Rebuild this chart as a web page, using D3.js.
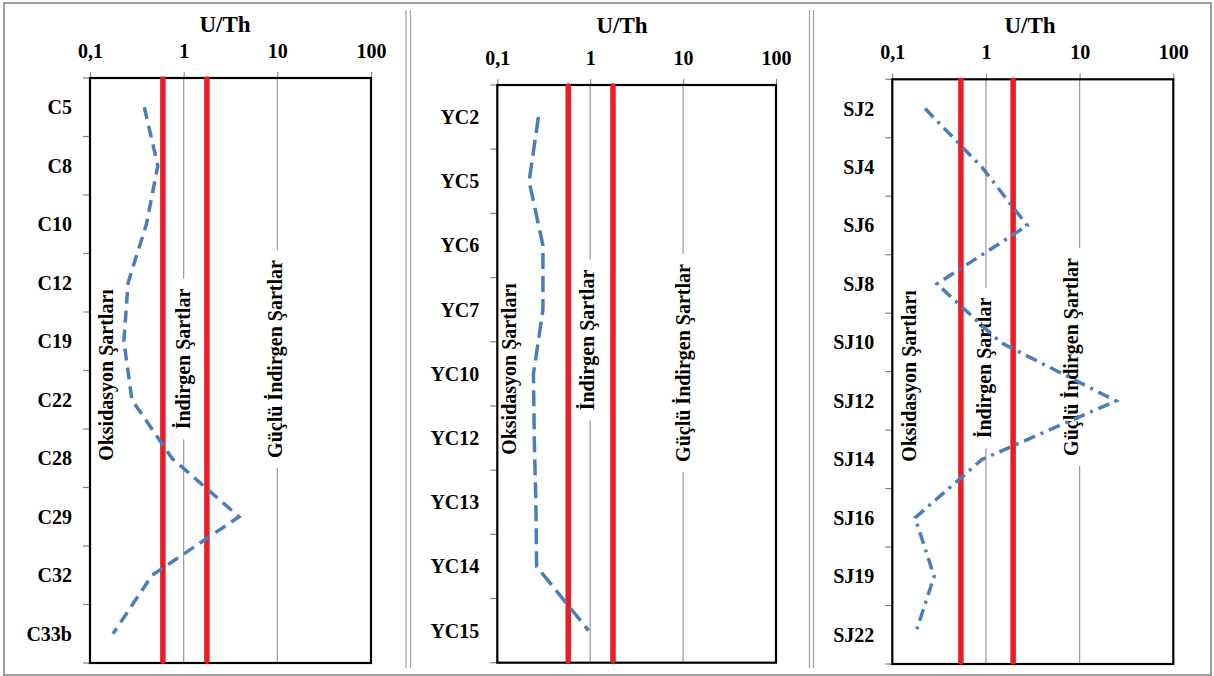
<!DOCTYPE html>
<html>
<head>
<meta charset="utf-8">
<script src="https://cdn.jsdelivr.net/npm/d3@7/dist/d3.min.js"></script>
<style>
  html, body { margin: 0; padding: 0; background: #fff; }
  svg { display: block; }
  text { font-family: "Liberation Serif", "Times New Roman", serif; font-weight: bold; fill: #000; }
</style>
</head>
<body>
<svg id="chart" width="1214" height="676"></svg>
<script>
// ---------- DATA ----------
const xTickValues = [0.1, 1, 10, 100];
const xTickLabels = ["0,1", "1", "10", "100"];
const gridValues = [1, 10];
const axisTitle = "U/Th";
const zoneLabels = ["Oksidasyon Şartları", "İndirgen Şartlar", "Güçlü İndirgen Şartlar"];

const categories1 = ["C5", "C8", "C10", "C12", "C19", "C22", "C28", "C29", "C32", "C33b"];
const values1 = [0.38, 0.53, 0.40, 0.255, 0.23, 0.28, 0.75, 3.9, 0.46, 0.176];
const thresholds1 = [0.6, 1.77];

const categories2 = ["YC2", "YC5", "YC6", "YC7", "YC10", "YC12", "YC13", "YC14", "YC15"];
const values2 = [0.277, 0.22, 0.31, 0.31, 0.245, 0.25, 0.26, 0.265, 0.96];
const thresholds2 = [0.58, 1.76];

const categories3 = ["SJ2", "SJ4", "SJ6", "SJ8", "SJ10", "SJ12", "SJ14", "SJ16", "SJ19", "SJ22"];
const values3 = [0.224, 0.9, 2.76, 0.30, 1.43, 24.4, 0.91, 0.175, 0.28, 0.175];
const thresholds3 = [0.54, 1.95];

// ---------- LAYOUT ----------
const layouts = [
  { left: 90, right: 371, top: 78, bottom: 663, titleX: 225, titleY: 32, tickY: 58,
    dash: "12,7", zoneX: [23, 6.5, 4.5], zoneY: [375, 359, 359] },
  { left: 497.3, right: 776, top: 85, bottom: 662.7, titleX: 622, titleY: 33, tickY: 64.5,
    dash: "16,7", zoneX: [18.5, 4, 7], zoneY: [369, 340, 363] },
  { left: 892.3, right: 1173.3, top: 79.3, bottom: 664, titleX: 1030, titleY: 33, tickY: 59,
    dash: "12,6,3,6", zoneX: [24, 5, -1.5], zoneY: [376, 368, 357] }
];

const panels = [
  { cats: categories1, vals: values1, th: thresholds1 },
  { cats: categories2, vals: values2, th: thresholds2 },
  { cats: categories3, vals: values3, th: thresholds3 }
];

const svg = d3.select("#chart");

// outer frame
svg.append("rect").attr("x", 4).attr("y", 3).attr("width", 1207).attr("height", 672)
  .attr("fill", "none").attr("stroke", "#7f7f7f").attr("stroke-width", 1.5);

// chart borders (double separators)
[406, 410.5, 809.5, 813.5].forEach(xx => {
  svg.append("line").attr("x1", xx).attr("x2", xx).attr("y1", 10).attr("y2", 668)
    .attr("stroke", "#a6a6a6").attr("stroke-width", 1.3);
});

panels.forEach((p, pi) => {
  const L = layouts[pi];
  const g = svg.append("g");
  const x = d3.scaleLog().domain([0.1, 100]).range([L.left, L.right]);
  const y = d3.scaleBand().domain(p.cats).range([L.top, L.bottom]).paddingInner(0).paddingOuter(0);

  // title
  g.append("text").attr("x", L.titleX).attr("y", L.titleY).attr("text-anchor", "middle")
    .style("font-size", "23px").text(axisTitle);

  // top axis
  const axis = d3.axisTop(x).tickValues(xTickValues)
    .tickFormat((d, i) => xTickLabels[i]).tickSize(6).tickPadding(L.top - L.tickY - 1);
  const ax = g.append("g").attr("transform", `translate(0,${L.top})`).call(axis);
  ax.select(".domain").remove();
  ax.selectAll(".tick line").attr("stroke", "#808080");
  ax.selectAll(".tick text").attr("font-family", null).style("font-size", "20px")
    .attr("fill", "#000").attr("dy", 0).attr("y", -(L.top - L.tickY));

  // gridlines
  g.selectAll(".grid").data(gridValues).enter().append("line")
    .attr("x1", d => x(d)).attr("x2", d => x(d)).attr("y1", L.top).attr("y2", L.bottom)
    .attr("stroke", "#999").attr("stroke-width", 1.2);

  // left ticks at band boundaries
  const bounds = d3.range(p.cats.length + 1).map(i => L.top + i * y.step());
  g.selectAll(".ltick").data(bounds).enter().append("line")
    .attr("x1", L.left - 7).attr("x2", L.left).attr("y1", d => d).attr("y2", d => d)
    .attr("stroke", "#808080").attr("stroke-width", 1.2);

  // category labels
  g.selectAll(".cat").data(p.cats).enter().append("text")
    .attr("x", L.left - 18).attr("y", d => y(d) + y.bandwidth() / 2 + 7)
    .attr("text-anchor", "end").style("font-size", "20px").text(d => d);

  // zone labels (rotated)
  const anchors = [x(0.1) , x(1), x(10)];
  zoneLabels.forEach((lab, li) => {
    const bx = anchors[li] + L.zoneX[li];
    const cy = L.zoneY[li];
    const t = g.append("text")
      .attr("transform", `translate(${bx},${cy}) rotate(-90)`)
      .attr("text-anchor", "middle").style("font-size", "20px").text(lab);
    const len = t.node().getComputedTextLength();
    if (li > 0) {
      g.insert("rect", () => t.node())
        .attr("x", bx - 18).attr("width", 24)
        .attr("y", cy - len / 2 - 10).attr("height", len + 20)
        .attr("fill", "#fff");
    }
  });

  // plot box
  g.append("rect").attr("x", L.left).attr("y", L.top)
    .attr("width", L.right - L.left).attr("height", L.bottom - L.top)
    .attr("fill", "none").attr("stroke", "#000").attr("stroke-width", 2.2);

  // red threshold lines
  g.selectAll(".th").data(p.th).enter().append("line")
    .attr("x1", d => x(d)).attr("x2", d => x(d))
    .attr("y1", L.top + 1).attr("y2", L.bottom - 2)
    .attr("stroke", "#ED1C24").attr("stroke-width", 5.5).attr("stroke-linecap", "round");

  // data line
  const line = d3.line().x(d => x(d.v)).y(d => y(d.c) + y.bandwidth() / 2);
  g.append("path").datum(p.cats.map((c, i) => ({ c, v: p.vals[i] })))
    .attr("d", line).attr("fill", "none")
    .attr("stroke", "#4A7EBB").attr("stroke-width", 3.5)
    .attr("stroke-dasharray", L.dash);
});
</script>
</body>
</html>
